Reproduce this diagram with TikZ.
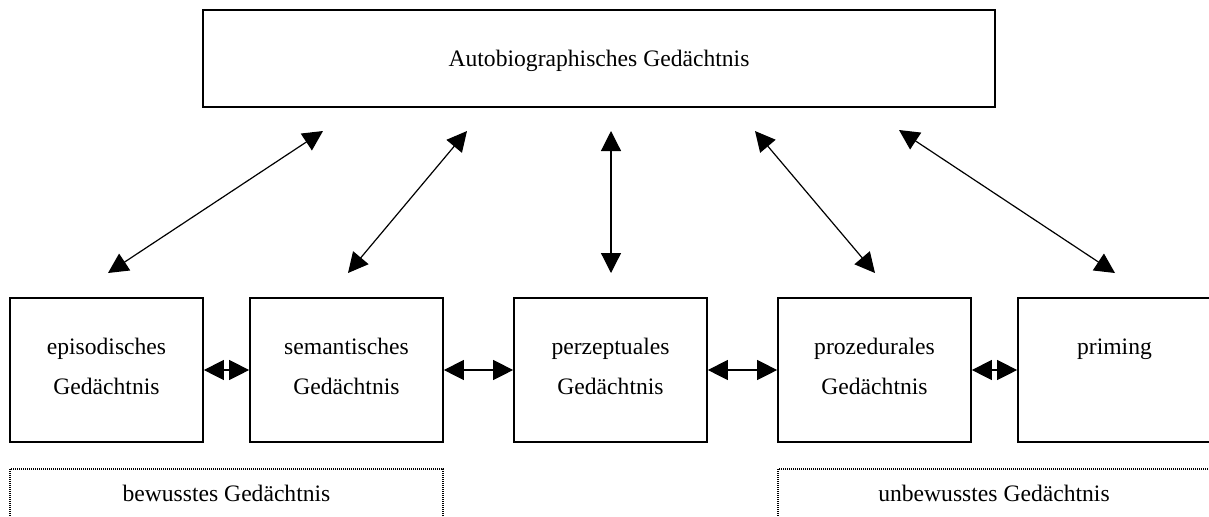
\documentclass[tikz,border=0pt]{standalone}
\usepackage{fontspec}
\setmainfont{Liberation Serif}
\usetikzlibrary{arrows.meta}
\begin{document}
\begin{tikzpicture}[x=0.5pt,y=-0.5pt,
  box/.style={draw,line width=0.85pt,inner sep=0pt,minimum width=96.5pt,minimum height=72pt},
  topbox/.style={draw,line width=0.85pt,inner sep=0pt,minimum width=396pt,minimum height=48.5pt},
  zone/.style={draw,line width=0.6pt,dash pattern=on 0.5pt off 0.5pt},
  txt/.style={font=\fontsize{11.8pt}{14pt}\selectfont,inner sep=0pt,anchor=base},
  link/.style={line width=0.6pt,{Triangle[length=10pt,width=10pt]}-{Triangle[length=10pt,width=10pt]}}]
\useasboundingbox (0,0) rectangle (1209,516);
\clip (0,0) rectangle (1209,516);

% top box
\node[topbox] (auto) at (599,58.5) {};
\node[txt] (autot) at (599,66) {Autobiographisches Gedächtnis};

% memory boxes
\node[box] (epi) at (106.5,370) {};
\node[box] (sem) at (346.5,370) {};
\node[box] (per) at (610.5,370) {};
\node[box] (pro) at (874.5,370) {};
\node[box] (pri) at (1114.5,370) {};

\node[txt] (epi1) at (106.5,354) {episodisches};
\node[txt] (epi2) at (106.5,394) {Gedächtnis};
\node[txt] (sem1) at (346.5,354) {semantisches};
\node[txt] (sem2) at (346.5,394) {Gedächtnis};
\node[txt] (per1) at (610.5,354) {perzeptuales};
\node[txt] (per2) at (610.5,394) {Gedächtnis};
\node[txt] (pro1) at (874.5,354) {prozedurales};
\node[txt] (pro2) at (874.5,394) {Gedächtnis};
\node[txt] (pri1) at (1114.5,354) {priming};

% horizontal links
\draw[link] (epi.east) -- (sem.west);
\draw[link] (sem.east) -- (per.west);
\draw[link] (per.east) -- (pro.west);
\draw[link] (pro.east) -- (pri.west);

% links to the top box
\coordinate (a1l) at (108,273);  \coordinate (a1u) at (323,131);
\coordinate (a2l) at (348,273);  \coordinate (a2u) at (467,131);
\coordinate (a3l) at (611,273);  \coordinate (a3u) at (611,131);
\coordinate (a4l) at (875,273);  \coordinate (a4u) at (755,131);
\coordinate (a5l) at (1115,273); \coordinate (a5u) at (899,130);
\draw[link] (a1l) -- (a1u);
\draw[link] (a2l) -- (a2u);
\draw[link] (a3l) -- (a3u);
\draw[link] (a4l) -- (a4u);
\draw[link] (a5l) -- (a5u);

% zones
\draw[zone] (10,469) rectangle (443,540);
\draw[zone] (778,469) rectangle (1212,540);
\node[txt] (bew) at (226.5,501) {bewusstes Gedächtnis};
\node[txt] (unbew) at (994,501) {unbewusstes Gedächtnis};
\end{tikzpicture}
\end{document}
